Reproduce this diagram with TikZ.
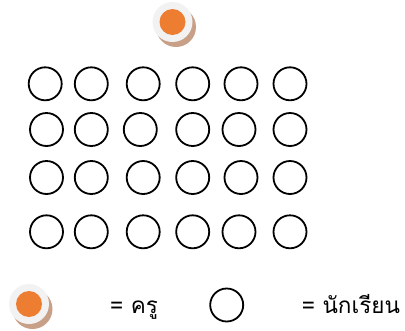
\documentclass[tikz,border=0pt]{standalone}
\usepackage{fontspec}
\newfontfamily\thaifont[Script=Thai]{Loma}
\usetikzlibrary{shadows}
\definecolor{teachorange}{RGB}{237,125,49}
\definecolor{teachring}{RGB}{242,242,242}
\definecolor{teachshadow}{RGB}{200,160,135}

\begin{document}
\begin{tikzpicture}[x=1pt, y=-1pt,
  student/.style={circle, draw=black, line width=1.8pt, minimum size=33pt, inner sep=0pt},
  ring/.style={circle, fill=teachring, minimum size=40pt, inner sep=0pt,
               drop shadow={shadow xshift=3.5pt, shadow yshift=-5pt, fill=teachshadow, opacity=1}},
  dot/.style={circle, fill=teachorange, minimum size=26pt, inner sep=0pt},
  legend/.style={font=\thaifont\fontsize{22.5}{26}\selectfont, anchor=base west, inner sep=0pt},
]
  \useasboundingbox (0,0) rectangle (405,330);

  % ---- Teacher (top) ----
  \node[ring] (teacher) at (172.5,22) {};
  \node[dot] (teachdot) at (teacher.center) {};

  % ---- Students, one row at a time ----
  \foreach \xa/\xb/\xc/\xd/\xe/\xf [count=\r] in
      {45.2/91.3/143.2/192.7/241/290,
       46.5/91.3/140.3/192.7/239/290,
       46.5/91.3/143.2/192.7/241/290,
       46.5/91.3/143.2/192.7/239/290} {
    \pgfmathsetmacro{\yrow}{{83.8,129.5,177.5,231.8}[\r-1]}
    \foreach \x [count=\c] in {\xa,\xb,\xc,\xd,\xe,\xf}
      \node[student] (s-\r-\c) at (\x,\yrow) {};
  }

  % ---- Legend ----
  \node[ring] (keyteacher) at (29,304) {};
  \node[dot] (keydot) at (keyteacher.center) {};
  \node[legend] (keyteachtext) at (110,313) {= ครู};
  \node[student] (keystudent) at (226.7,305) {};
  \node[legend] (keystudtext) at (301.7,313) {= นักเรียน};
\end{tikzpicture}
\end{document}
